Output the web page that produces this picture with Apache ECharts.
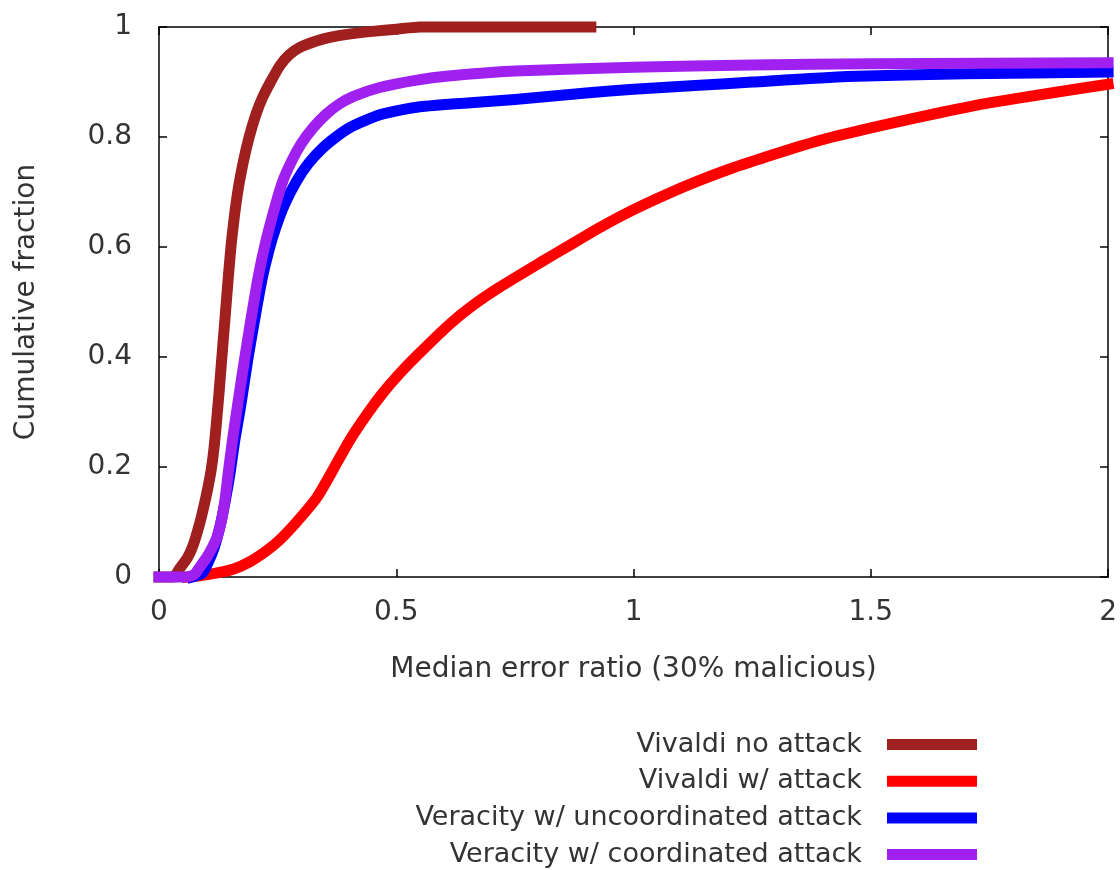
<!DOCTYPE html>
<html>
<head>
<meta charset="utf-8">
<script src="https://cdn.jsdelivr.net/npm/echarts@6/dist/echarts.min.js"></script>
<style>
html,body{margin:0;padding:0;background:#fff;}
#chart{width:1120px;height:870px;}
</style>
</head>
<body>
<div id="chart"></div>
<script>
// ---- data ----
const seriesNames = [
  'Vivaldi no attack',
  'Vivaldi w/ attack',
  'Veracity w/ uncoordinated attack',
  'Veracity w/ coordinated attack'
];
const seriesColors = ['#a02020', '#ff0000', '#0000ff', '#a020f0'];

const vivaldiNoAttack = [
  [0,0],[0.03,0],[0.044,0.016],[0.06,0.035],[0.072,0.058],[0.085,0.095],[0.095,0.13],
  [0.103,0.162],[0.11,0.195],[0.116,0.235],[0.121,0.28],[0.127,0.34],[0.133,0.405],
  [0.14,0.48],[0.147,0.555],[0.154,0.62],[0.165,0.695],[0.177,0.752],[0.19,0.8],
  [0.205,0.843],[0.219,0.873],[0.235,0.9],[0.255,0.93],[0.275,0.95],[0.297,0.963],
  [0.33,0.974],[0.36,0.981],[0.4,0.987],[0.45,0.992],[0.5,0.996],[0.55,1],[0.91,1]
];
const vivaldiAttack = [
  [0.06,0],[0.086,0.002],[0.12,0.007],[0.156,0.014],[0.19,0.027],[0.227,0.048],
  [0.255,0.068],[0.29,0.1],[0.333,0.145],[0.37,0.2],[0.402,0.249],[0.44,0.298],
  [0.472,0.335],[0.505,0.368],[0.543,0.402],[0.613,0.46],[0.66,0.493],[0.718,0.527],
  [0.808,0.574],[0.859,0.6],[0.93,0.636],[0.998,0.667],[1.07,0.696],[1.139,0.721],
  [1.21,0.744],[1.28,0.764],[1.35,0.783],[1.419,0.8],[1.554,0.827],[1.65,0.845],
  [1.75,0.862],[1.88,0.88],[2,0.896]
];
const veracityUncoord = [
  [0.07,0],[0.09,0.006],[0.1,0.02],[0.115,0.05],[0.128,0.09],[0.14,0.14],[0.15,0.19],
  [0.16,0.25],[0.172,0.31],[0.188,0.4],[0.203,0.475],[0.218,0.545],[0.232,0.595],
  [0.246,0.635],[0.265,0.678],[0.29,0.72],[0.315,0.752],[0.345,0.78],[0.373,0.8],
  [0.402,0.817],[0.44,0.832],[0.472,0.842],[0.55,0.855],[0.65,0.862],[0.75,0.868],
  [0.9,0.88],[1.0,0.887],[1.139,0.894],[1.25,0.9],[1.45,0.91],[1.7,0.915],[2,0.918]
];
const veracityCoord = [
  [0,0],[0.06,0],[0.075,0.005],[0.086,0.018],[0.1,0.035],[0.112,0.053],[0.122,0.072],
  [0.131,0.1],[0.139,0.14],[0.146,0.19],[0.155,0.25],[0.166,0.315],[0.181,0.4],
  [0.195,0.475],[0.21,0.55],[0.225,0.61],[0.245,0.675],[0.261,0.72],[0.28,0.757],
  [0.3,0.788],[0.325,0.817],[0.353,0.842],[0.38,0.86],[0.41,0.874],[0.465,0.89],
  [0.54,0.903],[0.61,0.911],[0.75,0.92],[1.0,0.927],[1.25,0.931],[1.5,0.933],[2,0.935]
];
const seriesData = [vivaldiNoAttack, vivaldiAttack, veracityUncoord, veracityCoord];

const xTitle = 'Median error ratio (30% malicious)';
const yTitle = 'Cumulative fraction';

// ---- chart ----
const FONT = 'DejaVu Sans, sans-serif';
const TXT = '#333';
const chart = echarts.init(document.getElementById('chart'), null, {renderer: 'canvas'});

const axisCommon = {
  axisLine: {show: true, onZero: false, lineStyle: {color: '#000', width: 1.5}},
  axisTick: {show: true, inside: true, length: 8, lineStyle: {color: '#000', width: 1.5}},
  splitLine: {show: false}
};

const option = {
  animation: false,
  backgroundColor: '#fff',
  grid: {left: 159, top: 27, width: 950, height: 550, containLabel: false},
  xAxis: [
    Object.assign({}, axisCommon, {
      type: 'value', min: 0, max: 2, interval: 0.5, position: 'bottom',
      name: xTitle, nameLocation: 'middle', nameGap: 79,
      nameTextStyle: {fontFamily: FONT, fontSize: 28, color: TXT},
      axisLabel: {fontFamily: FONT, fontSize: 28, color: TXT, margin: 22}
    }),
    Object.assign({}, axisCommon, {
      type: 'value', min: 0, max: 2, interval: 0.5, position: 'top',
      axisLabel: {show: false}
    })
  ],
  yAxis: [
    Object.assign({}, axisCommon, {
      type: 'value', min: 0, max: 1, interval: 0.2, position: 'left',
      name: yTitle, nameLocation: 'middle', nameGap: 118,
      nameTextStyle: {fontFamily: FONT, fontSize: 28, color: TXT},
      axisLabel: {fontFamily: FONT, fontSize: 28, color: TXT, margin: 27}
    }),
    Object.assign({}, axisCommon, {
      type: 'value', min: 0, max: 1, interval: 0.2, position: 'right',
      axisLabel: {show: false}
    })
  ],
  legend: {
    orient: 'vertical',
    align: 'right',
    right: 143,
    top: 731,
    padding: 0,
    itemWidth: 90,
    itemHeight: 11,
    itemGap: 9.7,
    icon: 'rect',
    data: seriesNames,
    textStyle: {fontFamily: FONT, fontSize: 27, color: TXT, lineHeight: 27, padding: [0, 20, 0, 0]}
  },
  series: seriesData.map((d, i) => ({
    name: seriesNames[i],
    type: 'line',
    data: d,
    showSymbol: false,
    symbol: 'none',
    clip: false,
    smooth: 0.2,
    itemStyle: {color: seriesColors[i]},
    lineStyle: {color: seriesColors[i], width: 11, cap: 'square', join: 'round'}
  }))
};
chart.setOption(option);
</script>
</body>
</html>
